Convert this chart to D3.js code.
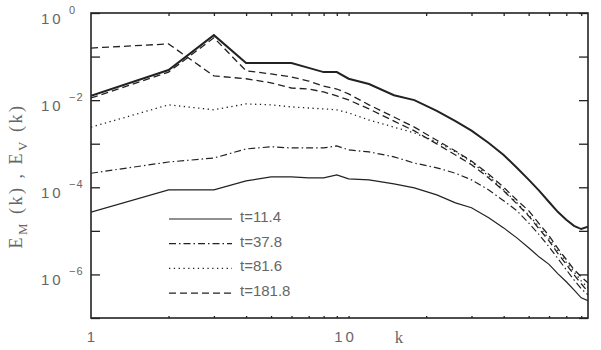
<!DOCTYPE html>
<html>
<head>
<meta charset="utf-8">
<script src="https://cdn.jsdelivr.net/npm/d3@7"></script>
<style>
  body { margin: 0; background: #fff; }
</style>
</head>
<body>
<svg id="chart" width="601" height="350"></svg>
<script>
const kVals = [1,2,3,4,5,6,7,8,9,10,12,15,18,22,26,30,35,40,45,50,55,60,65,70,75,80,85];

// thick solid (top curve)
const thickSolid = [0.0125,0.049,0.31,0.071,0.071,0.071,0.055,0.044,0.044,0.031,0.0235,0.013,0.010,0.0057,0.0033,0.0020,0.00104,5.5e-4,2.8e-4,1.5e-4,8.3e-5,4.6e-5,2.7e-5,1.8e-5,1.3e-5,1.1e-5,1.24e-5];
// t=181.8, the two dashed spectra
const dashUpper = [0.0112,0.044,0.27,0.047,0.040,0.034,0.0275,0.021,0.018,0.0139,0.0078,0.0041,0.0024,0.0012,6.8e-4,4.0e-4,2.0e-4,1.0e-4,5.1e-5,2.9e-5,1.45e-5,7.7e-6,3.9e-6,2.2e-6,1.3e-6,8.8e-7,6.4e-7];
const dashLower = [0.157,0.195,0.036,0.031,0.025,0.019,0.018,0.0154,0.0125,0.0101,0.0063,0.0033,0.00197,9.9e-4,5.5e-4,3.3e-4,1.64e-4,8.3e-5,4.2e-5,2.2e-5,1.1e-5,5.9e-6,3.0e-6,1.7e-6,9.8e-7,6.1e-7,4.0e-7];
// t=81.6
const dotted = [0.0024,0.0078,0.006,0.0082,0.0078,0.007,0.0066,0.0063,0.006,0.0051,0.0035,0.0024,0.00177,0.0011,6.5e-4,3.8e-4,1.8e-4,8.7e-5,4.4e-5,2.3e-5,1.24e-5,6.6e-6,3.5e-6,1.9e-6,1.15e-6,7.1e-7,4.9e-7];
// t=37.8
const dashDot = [2.1e-4,3.8e-4,4.7e-4,7.6e-4,8.5e-4,8.0e-4,8.0e-4,8.0e-4,8.9e-4,7.2e-4,6.5e-4,5.0e-4,3.6e-4,2.8e-4,2.1e-4,1.48e-4,8.7e-5,4.9e-5,2.9e-5,1.52e-5,8.1e-6,4.3e-6,2.3e-6,1.28e-6,7.5e-7,4.7e-7,3.4e-7];
// t=11.4
const thinSolid = [2.7e-5,8.7e-5,8.7e-5,1.4e-4,1.73e-4,1.73e-4,1.64e-4,1.64e-4,1.92e-4,1.56e-4,1.48e-4,1.2e-4,9.7e-5,6.7e-5,4.4e-5,3.4e-5,2.0e-5,1.17e-5,6.9e-6,4.1e-6,2.5e-6,1.7e-6,1.03e-6,6.8e-7,4.4e-7,2.9e-7,2.5e-7];

const legendLabels = ["t=11.4", "t=37.8", "t=81.6", "t=181.8"];
const yLabelExps = [0, -2, -4, -6];
const xLabelVals = [1, 10];

const svg = d3.select("#chart");
const mLeft = 91, mRight = 588, mTop = 13, mBottom = 318;
const ink = "#222", grey = "#666";

const x = d3.scaleLog().domain([1, 85]).range([mLeft, mRight]);
const y = d3.scaleLog().domain([1e-7, 1]).range([mBottom, mTop]);

// curve styles
const series = [
  {vals: thinSolid, w: 1.2, dash: null},
  {vals: dashDot, w: 1.2, dash: "7,3,1.5,3"},
  {vals: dotted, w: 1.3, dash: "1.3,3.5"},
  {vals: dashUpper, w: 1.3, dash: "7,4"},
  {vals: dashLower, w: 1.3, dash: "7,4"},
  {vals: thickSolid, w: 2, dash: null}
];

const line = d3.line()
  .x(d => x(d[0]))
  .y(d => y(d[1]));

svg.append("defs").append("clipPath").attr("id", "clip")
  .append("rect").attr("x", mLeft).attr("y", mTop)
  .attr("width", mRight - mLeft).attr("height", mBottom - mTop);

const plot = svg.append("g").attr("clip-path", "url(#clip)");
series.forEach(s => {
  plot.append("path")
    .datum(kVals.map((k, i) => [k, s.vals[i]]))
    .attr("d", line)
    .attr("fill", "none")
    .attr("stroke", ink)
    .attr("stroke-width", s.w)
    .attr("stroke-dasharray", s.dash);
});

// ticks, all pointing inward
const decades = d3.range(-7, 1).map(e => Math.pow(10, e));
const xMinor = [2,3,4,5,6,7,8,9,10,20,30,40,50,60,70,80];

function styleAxis(g) {
  g.select(".domain").remove();
  g.selectAll("line").attr("stroke", ink).attr("stroke-width", 1.3);
  g.selectAll("text").remove();
}
svg.append("g").attr("transform", `translate(${mLeft},0)`)
  .call(d3.axisLeft(y).tickValues(decades).tickSize(-9)).call(styleAxis);
svg.append("g").attr("transform", `translate(${mRight},0)`)
  .call(d3.axisRight(y).tickValues(decades).tickSize(-9)).call(styleAxis);
svg.append("g").attr("transform", `translate(0,${mTop})`)
  .call(d3.axisTop(x).tickValues(xMinor).tickSize(-3)).call(styleAxis);
svg.append("g").attr("transform", `translate(0,${mBottom})`)
  .call(d3.axisBottom(x).tickValues(xMinor).tickSize(-2)).call(styleAxis);

svg.append("rect")
  .attr("x", mLeft).attr("y", mTop)
  .attr("width", mRight - mLeft).attr("height", mBottom - mTop)
  .attr("fill", "none").attr("stroke", ink).attr("stroke-width", 1.6);

// y tick labels 10^n
const yl = svg.append("g").attr("font-family", "Liberation Sans, Arial, sans-serif").attr("fill", grey);
yLabelExps.forEach(e => {
  const ty = y(Math.pow(10, e));
  yl.append("text").attr("x", 41).attr("y", ty + 11)
    .attr("font-size", 15).attr("letter-spacing", 3).text("10");
  yl.append("text").attr("x", 69).attr("y", ty + 1)
    .attr("font-size", 11).attr("letter-spacing", 1).text(e === 0 ? "0" : "\u2212" + (-e));
});

// x tick labels
const xl = svg.append("g").attr("font-family", "Liberation Sans, Arial, sans-serif").attr("fill", grey)
  .attr("font-size", 15).attr("text-anchor", "middle");
xLabelVals.forEach(v => {
  xl.append("text").attr("x", x(v) - (v === 10 ? 3 : 0)).attr("y", 342)
    .attr("letter-spacing", v === 10 ? 3 : 0).text(v);
});
svg.append("text").attr("x", 399).attr("y", 343)
  .attr("font-family", "Liberation Serif, Times New Roman, serif").attr("font-size", 17)
  .attr("fill", grey).attr("text-anchor", "middle").text("k");

// y axis title
const yt = svg.append("text")
  .attr("transform", "translate(22,176) rotate(-90)")
  .attr("text-anchor", "middle")
  .attr("font-family", "Liberation Serif, Times New Roman, serif")
  .attr("font-size", 18).attr("fill", grey).attr("letter-spacing", 2.5);
yt.append("tspan").text("E");
yt.append("tspan").attr("dy", 5).attr("font-size", 13).text("M");
yt.append("tspan").attr("dy", -5).text(" (k) , E");
yt.append("tspan").attr("dy", 5).attr("font-size", 13).text("V");
yt.append("tspan").attr("dy", -5).text(" (k)");

// legend
const legendStyles = [series[0], series[1], series[2], series[3]];
const lg = svg.append("g");
legendLabels.forEach((lab, i) => {
  const ly = 216 + i * 24.7;
  lg.append("line")
    .attr("x1", 169).attr("x2", 232).attr("y1", ly + 3).attr("y2", ly + 3)
    .attr("stroke", ink).attr("stroke-width", 1.2)
    .attr("stroke-dasharray", legendStyles[i].dash);
  lg.append("text").attr("x", 240).attr("y", ly + 6)
    .attr("font-family", "Liberation Sans, Arial, sans-serif")
    .attr("font-size", 15).attr("fill", grey).text(lab);
});
</script>
</body>
</html>
